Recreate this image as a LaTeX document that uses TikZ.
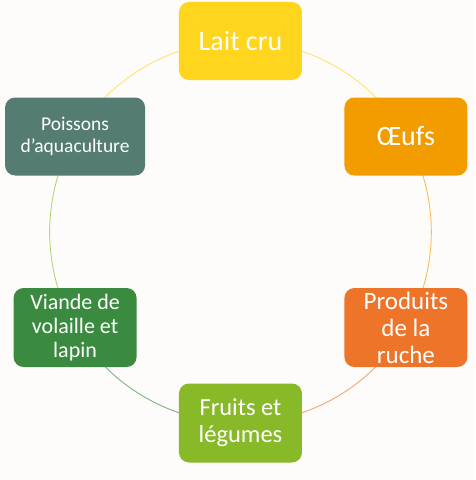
\documentclass[tikz,border=0pt]{standalone}
\usepackage{fontspec}
\setmainfont{Carlito}
\usetikzlibrary{backgrounds}
\pgfdeclarelayer{paper}
\pgfsetlayers{paper,background,main}

\definecolor{paperbg}{HTML}{FDFCFA}
\definecolor{laitcol}{HTML}{FFD51E}
\definecolor{oeufcol}{HTML}{F39C00}
\definecolor{ruchecol}{HTML}{EE742A}
\definecolor{fruitcol}{HTML}{87B928}
\definecolor{viandecol}{HTML}{3A8B3F}
\definecolor{poissoncol}{HTML}{547C72}

\begin{document}
\begin{tikzpicture}[
    x=1pt, y=1pt,
    item/.style={rectangle, rounded corners=10pt, minimum width=123pt, minimum height=78pt,
                 inner sep=0pt, text=white, align=center},
    link/.style={line width=0.9pt, bend left=30, looseness=0.91}
]
    \useasboundingbox (-240.5,-248) rectangle (234.5,232);
    \begin{pgfonlayer}{paper}
        \fill[paperbg] (-240.5,-248) rectangle (234.5,232);
    \end{pgfonlayer}

    % the six boxes on the circle
    \node[item, fill=laitcol, font=\fontsize{28}{30}\selectfont] (lait) at (90:191) {Lait cru};
    \node[item, fill=oeufcol, font=\fontsize{28}{30}\selectfont] (oeufs) at (30:191) {Œufs};
    \node[item, fill=ruchecol, minimum height=79pt, font=\fontsize{25}{27}\selectfont] (ruche) at (-30:191) {Produits\\de la\\ruche};
    \node[item, fill=fruitcol, minimum height=79pt, font=\fontsize{24.5}{27}\selectfont] (fruits) at (-90:191) {Fruits et\\légumes};
    \node[item, fill=viandecol, minimum height=79pt, font=\fontsize{22}{24}\selectfont] (viande) at (210:191) {Viande de\\volaille et\\lapin};
    \node[item, fill=poissoncol, minimum width=140pt, font=\fontsize{19.5}{22}\selectfont] (poissons) at (150:191) {Poissons\\d’aquaculture};

    % the cycle
    \begin{scope}[on background layer]
        \draw[link, laitcol!65!white] (lait.center) to (oeufs.center);
        \draw[link, oeufcol!65!white] (oeufs.center) to (ruche.center);
        \draw[link, ruchecol!65!white] (ruche.center) to (fruits.center);
        \draw[link, viandecol!65!white] (fruits.center) to (viande.center);
        \draw[link, fruitcol!60!white] (viande.center) to (poissons.center);
        \draw[link, laitcol!65!white] (poissons.center) to (lait.center);
    \end{scope}
\end{tikzpicture}
\end{document}
